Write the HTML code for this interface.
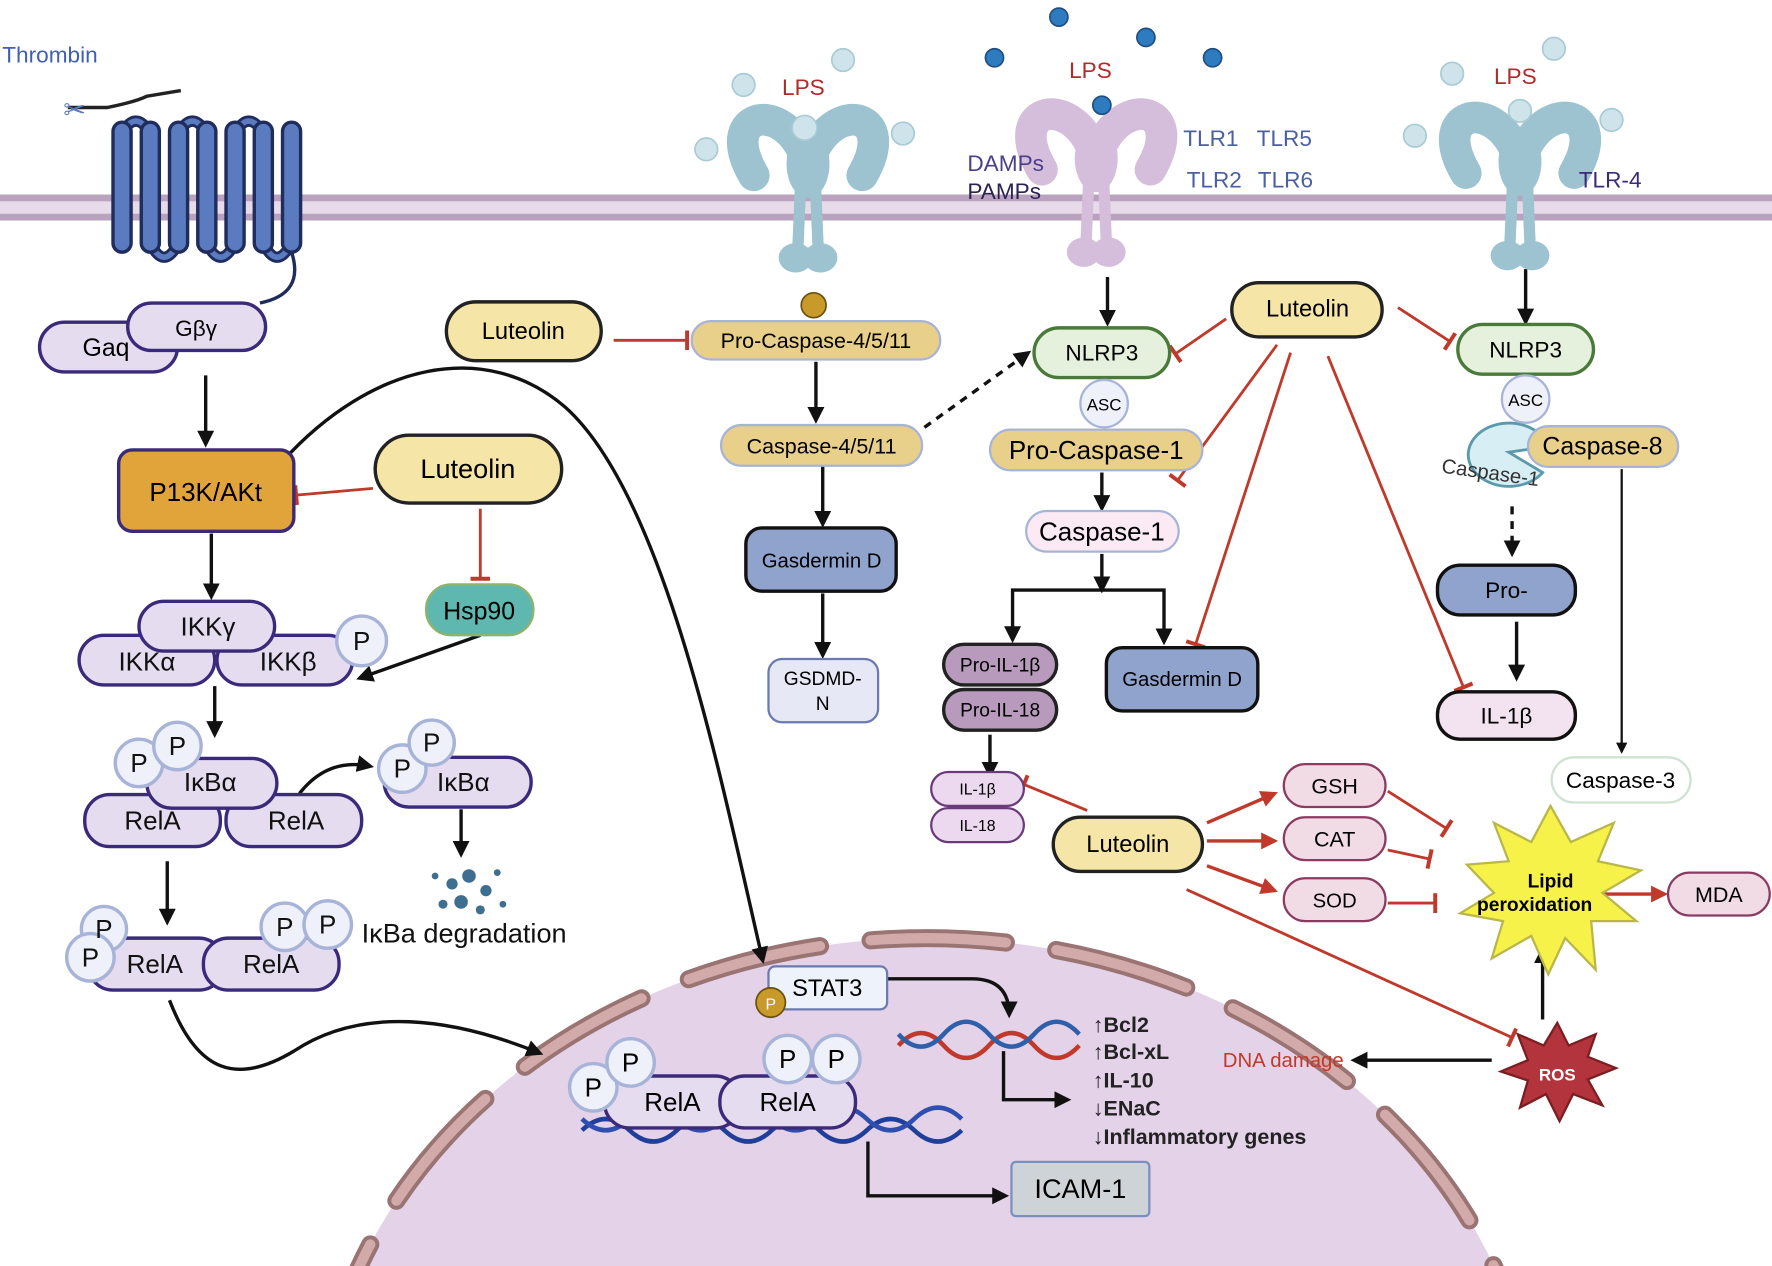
<!DOCTYPE html>
<html><head><meta charset="utf-8"><style>
html,body{margin:0;padding:0;background:#fff;overflow:hidden;width:1772px;height:1266px}
svg{display:block}
text{font-family:"Liberation Sans",sans-serif}
</style></head><body>
<svg width="1772" height="1266" viewBox="0 0 1568 1120" xmlns="http://www.w3.org/2000/svg">
<defs>
<marker id="ab" viewBox="0 0 10 10" refX="8" refY="5" markerWidth="5" markerHeight="5" orient="auto"><path d="M0,0L10,5L0,10z" fill="#111"/></marker>
<marker id="ar" viewBox="0 0 10 10" refX="8" refY="5" markerWidth="5" markerHeight="5" orient="auto"><path d="M0,0L10,5L0,10z" fill="#c0392b"/></marker>
<marker id="inh" viewBox="0 0 4 20" refX="2" refY="10" markerWidth="3" markerHeight="7" orient="auto"><rect x="0" y="0" width="4" height="20" fill="#c0392b"/></marker>
<g id="rec">
<path d="M-9,120 L-6,50 M9,120 L6,50" stroke="currentColor" stroke-width="10" fill="none" stroke-linecap="round"/>
<path d="M-4,35 C-25,-12 -80,0 -48,55 M4,35 C25,-12 80,0 48,55" stroke="currentColor" stroke-width="28" fill="none" stroke-linecap="round"/>
<ellipse cx="-11" cy="128" rx="15" ry="13" fill="currentColor"/><ellipse cx="11" cy="128" rx="15" ry="13" fill="currentColor"/>
<ellipse cx="0" cy="45" rx="19" ry="30" fill="currentColor"/>
</g>
</defs>

<!-- nucleus -->
<ellipse cx="820" cy="1290" rx="540" ry="460" fill="#e4d2e8"/>
<ellipse cx="820" cy="1290" rx="540" ry="460" fill="none" stroke="#9a7373" stroke-width="16" stroke-dasharray="120 45" stroke-linecap="round"/>
<ellipse cx="820" cy="1290" rx="540" ry="460" fill="none" stroke="#d2aaaa" stroke-width="9" stroke-dasharray="120 45" stroke-linecap="round"/>

<!-- membrane -->
<rect x="0" y="172" width="1568" height="23" fill="#b8a2bd"/>
<rect x="0" y="178" width="1568" height="11" fill="#e8dbe9"/>

<!-- GPCR -->
<text x="2" y="55" font-size="20" fill="#3f5fb5">Thrombin</text>
<path d="M60,95 L95,95 Q120,90 130,85 L160,80" stroke="#222" stroke-width="3" fill="none"/>
<text x="56" y="105" font-size="24" fill="#5b7bc0">✂</text>
<path d="M108,118 Q120,96 133,118 M158,118 Q170,96 183,118 M208,118 Q220,96 233,118 M133,215 Q145,240 158,215 M183,215 Q195,240 208,215 M233,215 Q245,240 258,215" stroke="#1f2c5c" stroke-width="10" fill="none"/>
<path d="M108,118 Q120,96 133,118 M158,118 Q170,96 183,118 M208,118 Q220,96 233,118 M133,215 Q145,240 158,215 M183,215 Q195,240 208,215 M233,215 Q245,240 258,215" stroke="#5b7bc0" stroke-width="5" fill="none"/>
<g fill="#5b7bc0" stroke="#1f2c5c" stroke-width="3">
<rect x="100" y="108" width="16" height="115" rx="8"/><rect x="125" y="108" width="16" height="115" rx="8"/>
<rect x="150" y="108" width="16" height="115" rx="8"/><rect x="175" y="108" width="16" height="115" rx="8"/>
<rect x="200" y="108" width="16" height="115" rx="8"/><rect x="225" y="108" width="16" height="115" rx="8"/>
<rect x="250" y="108" width="16" height="115" rx="8"/>
</g>
<path d="M258,223 Q270,260 230,268" stroke="#1f2c5c" stroke-width="3" fill="none"/>
<rect x="35" y="285" width="122" height="44" rx="22" fill="#e5dcf0" stroke="#3b2a7a" stroke-width="3"/>
<text x="73" y="315" font-size="22">Gaq</text>
<rect x="113" y="268" width="122" height="42" rx="21" fill="#e5dcf0" stroke="#3b2a7a" stroke-width="3"/>
<text x="155" y="297" font-size="20">Gβγ</text>

<g stroke="#111" stroke-width="3" fill="none" marker-end="url(#ab)">
<line x1="182" y1="332" x2="182" y2="393"/>
<line x1="187" y1="472" x2="187" y2="528"/>
<line x1="190" y1="607" x2="190" y2="650"/>
<line x1="408" y1="716" x2="408" y2="756"/>
<line x1="148" y1="762" x2="148" y2="816"/>
<line x1="425" y1="562" x2="318" y2="600"/>
<path d="M265,702 Q290,670 328,678"/>
<path d="M150,885 C175,950 210,960 260,930 C320,890 400,900 478,932"/>
<path d="M250,408 C330,320 430,300 500,360 C590,440 640,700 675,850"/>
<path d="M785,866 L860,866 Q893,866 893,898"/>
<path d="M888,930 L888,973 L945,973"/>
<path d="M768,1010 L768,1058 L890,1058"/>
<line x1="722" y1="320" x2="722" y2="372"/>
<line x1="728" y1="412" x2="728" y2="464"/>
<line x1="728" y1="525" x2="728" y2="580"/>
<line x1="980" y1="245" x2="980" y2="286"/>
<line x1="975" y1="418" x2="975" y2="450"/>
<path d="M975,490 L975,522"/>
<path d="M975,522 L896,522 L896,566"/>
<path d="M975,522 L1030,522 L1030,568"/>
<line x1="876" y1="650" x2="876" y2="686"/>
<line x1="1350" y1="238" x2="1350" y2="285"/>
<line x1="1342" y1="550" x2="1342" y2="600"/>
<path d="M1435,415 L1435,665" stroke-width="2"/>
<line x1="1365" y1="902" x2="1365" y2="840"/>
<line x1="1320" y1="938" x2="1198" y2="938"/>
</g>
<line x1="818" y1="378" x2="910" y2="312" stroke="#111" stroke-width="3" stroke-dasharray="7 6" marker-end="url(#ab)"/>
<line x1="1338" y1="448" x2="1338" y2="490" stroke="#111" stroke-width="3" stroke-dasharray="7 6" marker-end="url(#ab)"/>

<!-- red inhibition lines -->
<g stroke="#c0392b" stroke-width="2.5" fill="none" marker-end="url(#inh)">
<line x1="330" y1="432" x2="262" y2="438"/>
<line x1="425" y1="450" x2="425" y2="512"/>
<line x1="543" y1="301" x2="608" y2="301"/>
<line x1="1085" y1="282" x2="1040" y2="313"/>
<line x1="1130" y1="305" x2="1042" y2="425"/>
<line x1="1142" y1="312" x2="1058" y2="570"/>
<line x1="1175" y1="315" x2="1295" y2="608"/>
<line x1="1237" y1="272" x2="1283" y2="302"/>
<line x1="962" y1="717" x2="906" y2="694"/>
<line x1="1228" y1="700" x2="1280" y2="733"/>
<line x1="1228" y1="752" x2="1265" y2="760"/>
<line x1="1228" y1="799" x2="1270" y2="799"/>
<line x1="1050" y1="787" x2="1338" y2="918"/>
</g>
<g stroke="#c0392b" stroke-width="3" fill="none" marker-end="url(#ar)">
<line x1="1068" y1="728" x2="1128" y2="702"/>
<line x1="1068" y1="744" x2="1128" y2="744"/>
<line x1="1068" y1="766" x2="1128" y2="788"/>
<line x1="1418" y1="791" x2="1473" y2="791"/>
</g>

<!-- receptors -->
<use href="#rec" x="715" y="100" color="#9cc3cf"/>
<use href="#rec" x="970" y="95" color="#d4bedb"/>
<use href="#rec" x="1345" y="98" color="#9cc3cf"/>
<g fill="#cfe4ea" stroke="#a9cbd5" stroke-width="1.5">
<circle cx="658" cy="75" r="10"/><circle cx="625" cy="132" r="10"/><circle cx="799" cy="118" r="10"/><circle cx="746" cy="53" r="10"/><circle cx="712" cy="113" r="11"/>
<circle cx="1285" cy="65" r="10"/><circle cx="1375" cy="43" r="10"/><circle cx="1252" cy="120" r="10"/><circle cx="1426" cy="106" r="10"/><circle cx="1345" cy="98" r="10"/>
</g>
<g fill="#2f7bbf" stroke="#1f4f80" stroke-width="1.5">
<circle cx="880" cy="51" r="8"/><circle cx="937" cy="15" r="8"/><circle cx="1014" cy="33" r="8"/><circle cx="1073" cy="51" r="8"/><circle cx="975" cy="93" r="8"/>
</g>
<text x="692" y="84" font-size="20" fill="#b22a2a">LPS</text>
<text x="946" y="69" font-size="20" fill="#b22a2a">LPS</text>
<text x="1322" y="74" font-size="20" fill="#b22a2a">LPS</text>
<text x="856" y="151" font-size="20" fill="#4b3f8a">DAMPs</text>
<text x="856" y="176" font-size="20" fill="#2c2350">PAMPs</text>
<text x="1047" y="129" font-size="20" fill="#4b5fa5">TLR1</text><text x="1112" y="129" font-size="20" fill="#4b5fa5">TLR5</text>
<text x="1050" y="166" font-size="20" fill="#4b5fa5">TLR2</text><text x="1113" y="166" font-size="20" fill="#4b5fa5">TLR6</text>
<text x="1397" y="166" font-size="20" fill="#3b2a7a">TLR-4</text>

<!-- left cascade -->
<rect x="105" y="398" width="155" height="72" rx="12" fill="#e0a43a" stroke="#3b2a7a" stroke-width="3"/>
<text x="182" y="443" font-size="23" text-anchor="middle">P13K/AKt</text>
<rect x="332" y="385" width="165" height="60" rx="30" fill="#f5e6a8" stroke="#222" stroke-width="3"/>
<text x="414" y="423" font-size="24" text-anchor="middle">Luteolin</text>
<rect x="377" y="517" width="95" height="45" rx="22" fill="#5fb8b0" stroke="#8fb36b" stroke-width="2"/>
<text x="424" y="548" font-size="22" text-anchor="middle">Hsp90</text>

<g fill="#e5dcf0" stroke="#3b2a7a" stroke-width="3" font-size="22">
<rect x="70" y="562" width="120" height="44" rx="22"/><rect x="192" y="562" width="120" height="44" rx="22"/>
<rect x="123" y="532" width="120" height="44" rx="22"/>
<circle cx="320" cy="567" r="22" stroke="#a7b4d8" fill="#eef0fa"/>
<rect x="75" y="703" width="120" height="46" rx="22"/><rect x="200" y="703" width="120" height="46" rx="22"/>
<rect x="130" y="671" width="115" height="44" rx="22"/>
<circle cx="123" cy="675" r="21" stroke="#a7b4d8" fill="#eef0fa"/><circle cx="157" cy="660" r="21" stroke="#a7b4d8" fill="#eef0fa"/>
<rect x="340" y="670" width="130" height="44" rx="22"/>
<circle cx="356" cy="680" r="21" stroke="#a7b4d8" fill="#eef0fa"/><circle cx="382" cy="657" r="20" stroke="#a7b4d8" fill="#eef0fa"/>
<rect x="78" y="830" width="120" height="46" rx="22"/><rect x="180" y="830" width="120" height="46" rx="22"/>
<circle cx="92" cy="822" r="20" stroke="#a7b4d8" fill="#eef0fa"/><circle cx="80" cy="847" r="21" stroke="#a7b4d8" fill="#eef0fa"/>
<circle cx="252" cy="820" r="21" stroke="#a7b4d8" fill="#eef0fa"/><circle cx="290" cy="818" r="21" stroke="#a7b4d8" fill="#eef0fa"/>
</g>
<g font-size="23" fill="#111">
<text x="184" y="562" text-anchor="middle">IKKγ</text>
<text x="130" y="593" text-anchor="middle">IKKα</text>
<text x="255" y="593" text-anchor="middle">IKKβ</text>
<text x="320" y="575" text-anchor="middle">P</text>
<text x="135" y="734" text-anchor="middle">RelA</text><text x="262" y="734" text-anchor="middle">RelA</text>
<text x="186" y="700" text-anchor="middle">IκBα</text>
<text x="123" y="683" text-anchor="middle">P</text><text x="157" y="668" text-anchor="middle">P</text>
<text x="410" y="700" text-anchor="middle">IκBα</text>
<text x="356" y="688" text-anchor="middle">P</text><text x="382" y="665" text-anchor="middle">P</text>
<text x="137" y="861" text-anchor="middle">RelA</text><text x="240" y="861" text-anchor="middle">RelA</text>
<text x="92" y="830" text-anchor="middle">P</text><text x="80" y="855" text-anchor="middle">P</text>
<text x="252" y="828" text-anchor="middle">P</text><text x="290" y="826" text-anchor="middle">P</text>
<text x="320" y="834" font-size="24">IκBa degradation</text>
</g>
<g fill="#3f6f90"><circle cx="400" cy="782" r="5"/><circle cx="415" cy="775" r="6"/><circle cx="430" cy="788" r="5"/><circle cx="408" cy="798" r="6"/><circle cx="425" cy="805" r="4"/><circle cx="392" cy="800" r="4"/><circle cx="440" cy="772" r="3"/><circle cx="385" cy="775" r="3"/><circle cx="445" cy="800" r="3"/></g>

<!-- middle -->
<circle cx="720" cy="270" r="11" fill="#c89a2a" stroke="#6b5010" stroke-width="1.5"/>
<rect x="395" y="267" width="137" height="52" rx="26" fill="#f5e6a8" stroke="#222" stroke-width="3"/>
<text x="463" y="300" font-size="21" text-anchor="middle">Luteolin</text>
<rect x="612" y="284" width="220" height="34" rx="17" fill="#e8cf8a" stroke="#a7b4d8" stroke-width="2"/>
<text x="722" y="308" font-size="19" text-anchor="middle">Pro-Caspase-4/5/11</text>
<rect x="638" y="376" width="178" height="36" rx="18" fill="#e8cf8a" stroke="#a7b4d8" stroke-width="2"/>
<text x="727" y="401" font-size="19" text-anchor="middle">Caspase-4/5/11</text>
<rect x="660" y="467" width="133" height="56" rx="14" fill="#8fa3cc" stroke="#111" stroke-width="3"/>
<text x="727" y="502" font-size="18" text-anchor="middle">Gasdermin D</text>
<rect x="680" y="583" width="97" height="56" rx="12" fill="#e6e8f5" stroke="#6b7bb0" stroke-width="2"/>
<text x="728" y="606" font-size="17" text-anchor="middle">GSDMD-</text><text x="728" y="628" font-size="17" text-anchor="middle">N</text>

<rect x="915" y="290" width="120" height="44" rx="22" fill="#e5f1dd" stroke="#4a7a3a" stroke-width="3"/>
<text x="975" y="319" font-size="20" text-anchor="middle">NLRP3</text>
<circle cx="977" cy="357" r="21" fill="#eef0fa" stroke="#a7b4d8" stroke-width="2"/>
<text x="977" y="363" font-size="15" text-anchor="middle">ASC</text>
<rect x="876" y="380" width="188" height="36" rx="18" fill="#e8cf8a" stroke="#a7b4d8" stroke-width="2"/>
<text x="970" y="406" font-size="23" text-anchor="middle">Pro-Caspase-1</text>
<rect x="908" y="452" width="135" height="36" rx="18" fill="#fbeaf3" stroke="#a7b4d8" stroke-width="2"/>
<text x="975" y="478" font-size="23" text-anchor="middle">Caspase-1</text>
<rect x="1090" y="250" width="133" height="48" rx="24" fill="#f5e6a8" stroke="#222" stroke-width="3"/>
<text x="1157" y="280" font-size="21" text-anchor="middle">Luteolin</text>
<rect x="835" y="570" width="100" height="36" rx="18" fill="#b89abc" stroke="#222" stroke-width="3"/>
<text x="885" y="594" font-size="17" text-anchor="middle">Pro-IL-1β</text>
<rect x="835" y="610" width="100" height="36" rx="18" fill="#b89abc" stroke="#222" stroke-width="3"/>
<text x="885" y="634" font-size="17" text-anchor="middle">Pro-IL-18</text>
<rect x="979" y="573" width="134" height="56" rx="14" fill="#8fa3cc" stroke="#111" stroke-width="3"/>
<text x="1046" y="607" font-size="18" text-anchor="middle">Gasdermin D</text>
<rect x="824" y="683" width="82" height="30" rx="15" fill="#ecd9ef" stroke="#6b3a7a" stroke-width="2"/>
<text x="865" y="703" font-size="14" text-anchor="middle">IL-1β</text>
<rect x="824" y="715" width="82" height="30" rx="15" fill="#ecd9ef" stroke="#6b3a7a" stroke-width="2"/>
<text x="865" y="735" font-size="14" text-anchor="middle">IL-18</text>

<!-- right -->
<rect x="1290" y="287" width="120" height="44" rx="22" fill="#e5f1dd" stroke="#4a7a3a" stroke-width="3"/>
<text x="1350" y="316" font-size="20" text-anchor="middle">NLRP3</text>
<path d="M1370,395 A36,28 0 1,0 1365,418 L1335,400 Z" fill="#d8eef5" stroke="#5a9aaa" stroke-width="2.5"/>
<circle cx="1350" cy="353" r="21" fill="#eef0fa" stroke="#a7b4d8" stroke-width="2"/>
<text x="1350" y="359" font-size="15" text-anchor="middle">ASC</text>
<rect x="1352" y="377" width="133" height="36" rx="18" fill="#e8cf8a" stroke="#a7b4d8" stroke-width="2"/>
<text x="1418" y="402" font-size="22" text-anchor="middle">Caspase-8</text>
<text x="1275" y="418" font-size="18" fill="#333" transform="rotate(8 1275 418)">Caspase-1</text>
<rect x="1272" y="500" width="122" height="44" rx="20" fill="#8fa3cc" stroke="#111" stroke-width="3"/>
<text x="1333" y="529" font-size="20" text-anchor="middle">Pro-</text>
<rect x="1272" y="612" width="122" height="42" rx="20" fill="#f3e2ef" stroke="#111" stroke-width="3"/>
<text x="1333" y="640" font-size="20" text-anchor="middle">IL-1β</text>
<rect x="1373" y="670" width="123" height="40" rx="20" fill="#fff" stroke="#cfe3d2" stroke-width="2"/>
<text x="1434" y="697" font-size="20" text-anchor="middle">Caspase-3</text>

<rect x="932" y="723" width="132" height="48" rx="24" fill="#f5e6a8" stroke="#222" stroke-width="3"/>
<text x="998" y="754" font-size="21" text-anchor="middle">Luteolin</text>
<g fill="#f1dce6" stroke="#8b3a62" stroke-width="2">
<rect x="1136" y="676" width="90" height="38" rx="19"/><rect x="1136" y="723" width="90" height="38" rx="19"/><rect x="1136" y="777" width="90" height="38" rx="19"/>
<rect x="1476" y="772" width="90" height="38" rx="19"/>
</g>
<text x="1181" y="702" font-size="19" text-anchor="middle">GSH</text>
<text x="1181" y="749" font-size="19" text-anchor="middle">CAT</text>
<text x="1181" y="803" font-size="18" text-anchor="middle">SOD</text>
<text x="1521" y="798" font-size="19" text-anchor="middle">MDA</text>
<polygon points="1372,713 1390,745 1428,728 1414,762 1452,770 1418,790 1448,815 1408,815 1412,858 1385,830 1370,862 1355,828 1320,848 1330,815 1292,808 1322,790 1298,765 1335,762 1322,728 1355,745" fill="#f7f24a" stroke="#b9b64a" stroke-width="2"/>
<text x="1372" y="785" font-size="17" font-weight="bold" text-anchor="middle">Lipid</text>
<text x="1358" y="806" font-size="17" font-weight="bold" text-anchor="middle">peroxidation</text>
<polygon points="1378,905 1388,925 1412,915 1405,935 1430,945 1405,955 1418,978 1392,968 1380,992 1368,968 1345,980 1352,956 1328,948 1352,938 1343,915 1366,925" fill="#b3343c" stroke="#7a1e22" stroke-width="2"/>
<text x="1378" y="956" font-size="15" font-weight="bold" fill="#fff" text-anchor="middle">ROS</text>
<text x="1082" y="944" font-size="18" fill="#c0392b">DNA damage</text>

<!-- nucleus contents -->
<rect x="680" y="855" width="105" height="38" rx="6" fill="#eef2fb" stroke="#6b7bb0" stroke-width="2"/>
<text x="732" y="881" font-size="21" text-anchor="middle">STAT3</text>
<circle cx="682" cy="887" r="13" fill="#c89a2a" stroke="#6b5010" stroke-width="1.5"/>
<text x="682" y="893" font-size="14" fill="#fff" text-anchor="middle">P</text>
<path d="M795,925 q20,-22 40,0 t40,0 t40,0 t40,0" stroke="#c0392b" stroke-width="4" fill="none"/>
<path d="M795,915 q20,22 40,0 t40,0 t40,0 t40,0" stroke="#2f5fa8" stroke-width="4" fill="none"/>
<path d="M515,1000 q21,-20 42,0 t42,0 t42,0 t42,0 t42,0 t42,0 t42,0 t42,0" stroke="#1f3f9a" stroke-width="4" fill="none"/>
<path d="M515,990 q21,20 42,0 t42,0 t42,0 t42,0 t42,0 t42,0 t42,0 t42,0" stroke="#2f4fb0" stroke-width="4" fill="none"/>
<g fill="#e5dcf0" stroke="#3b2a7a" stroke-width="3">
<rect x="535" y="952" width="120" height="46" rx="22"/><rect x="637" y="952" width="120" height="46" rx="22"/>
<circle cx="525" cy="962" r="21" stroke="#a7b4d8" fill="#eef0fa"/><circle cx="558" cy="940" r="21" stroke="#a7b4d8" fill="#eef0fa"/>
<circle cx="697" cy="937" r="21" stroke="#a7b4d8" fill="#eef0fa"/><circle cx="740" cy="937" r="21" stroke="#a7b4d8" fill="#eef0fa"/>
</g>
<g font-size="23" text-anchor="middle">
<text x="595" y="983">RelA</text><text x="697" y="983">RelA</text>
<text x="525" y="970">P</text><text x="558" y="948">P</text><text x="697" y="945">P</text><text x="740" y="945">P</text>
</g>
<g font-size="19" font-weight="bold" fill="#222">
<text x="967" y="913">↑Bcl2</text><text x="967" y="937">↑Bcl-xL</text><text x="967" y="962">↑IL-10</text>
<text x="967" y="987">↓ENaC</text><text x="967" y="1012">↓Inflammatory genes</text>
</g>
<rect x="895" y="1028" width="122" height="48" rx="4" fill="#cdd3d6" stroke="#7b8fc0" stroke-width="2"/>
<text x="956" y="1060" font-size="24" text-anchor="middle">ICAM-1</text>
</svg>
</body></html>
